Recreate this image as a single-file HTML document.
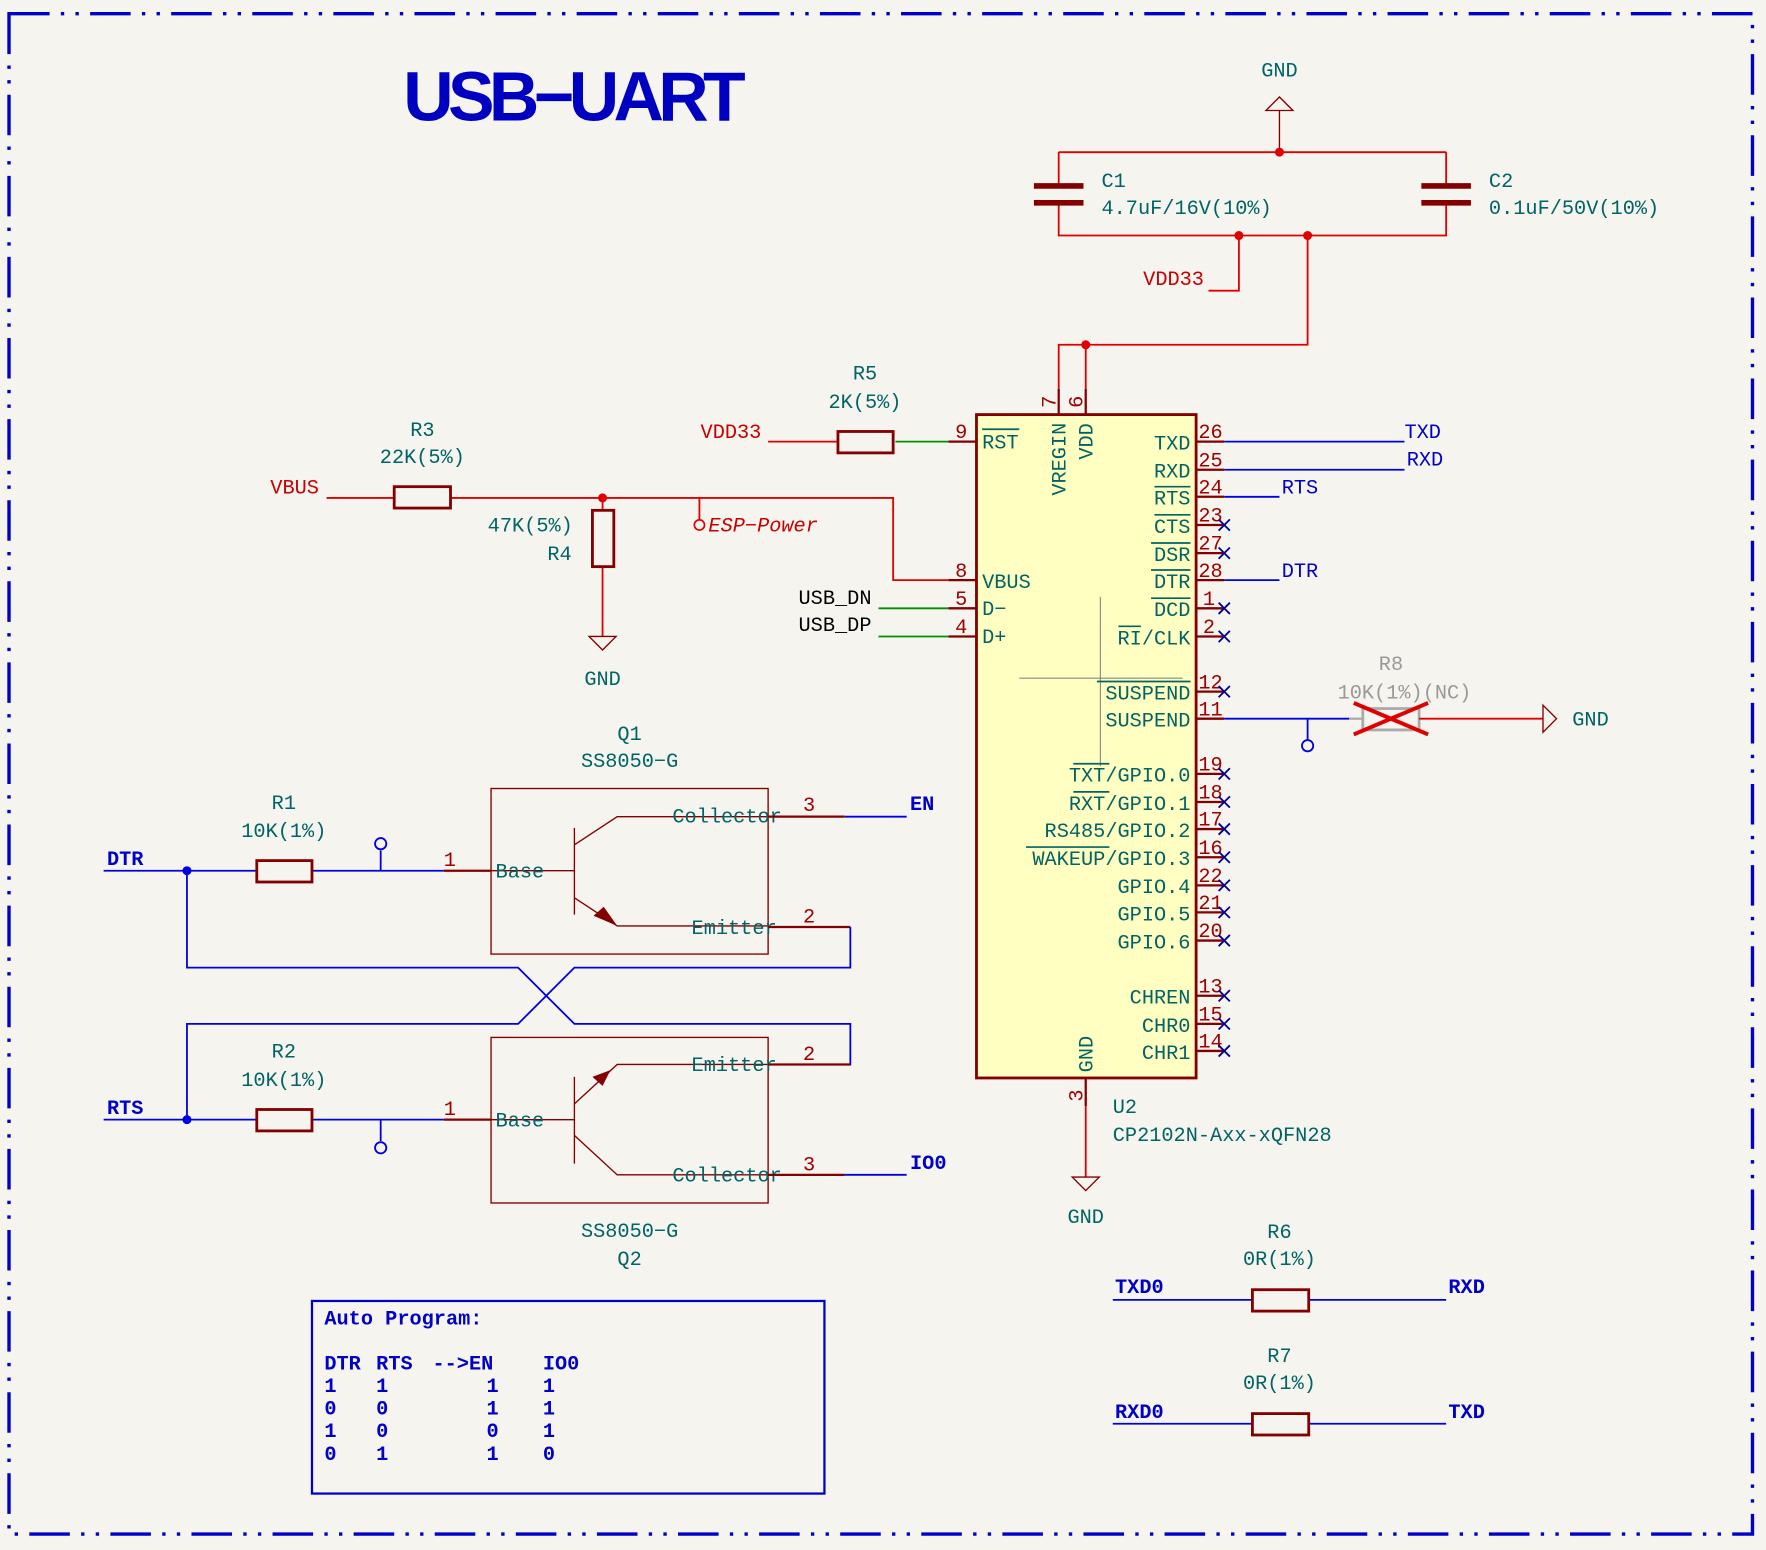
<!DOCTYPE html>
<html><head><meta charset="utf-8"><style>
html,body{margin:0;padding:0;background:#f5f4ef}
svg{display:block}
text{font-family:"Liberation Mono","DejaVu Sans Mono",monospace;font-size:18px}
.t{fill:#006464}.r{fill:#c80000}.pr{fill:#a00000}.b{fill:#0000c8;font-weight:bold}.bl{fill:#0000c8}.k{fill:#000}.g{fill:#999}
.wr{stroke:#e00000;stroke-width:1.6;fill:none}
.wb{stroke:#0000e0;stroke-width:1.6;fill:none}
.wg{stroke:#009000;stroke-width:1.6;fill:none}
.dr{stroke:#840000;stroke-width:2;fill:none}
.dt{stroke:#840000;stroke-width:1.2;fill:none}
.nc{stroke:#000090;stroke-width:1.6}
</style></head><body>
<svg width="1766" height="1550" viewBox="0 0 1568 1376" xmlns="http://www.w3.org/2000/svg">
<rect width="1568" height="1376" fill="#f5f4ef"/>
<rect x="8" y="12" width="1548" height="1350" fill="none" stroke="#0000c8" stroke-width="3" stroke-dasharray="36,10,3,10,3,10"/>
<text x="358" y="107" style="font-family:'Liberation Sans',sans-serif;font-size:62px;font-weight:bold;fill:#0000c0" textLength="304">USB−UART</text>

<!-- top GND & caps -->
<text x="1136" y="68" class="t" text-anchor="middle">GND</text>
<path class="dt" d="M1124 98 L1136 86 L1148 98 Z M1136 98 V135"/>
<path class="wr" d="M940 135 H1284 M940 135 V163 M1284 135 V163 M940 182 V209 H1284 V182 M1100 209 V258 H1073 M1161 209 V306 H940 V345 M964 306 V345"/>
<path stroke="#840000" stroke-width="5" d="M918 165 H962 M918 180 H962 M1262 165 H1306 M1262 180 H1306"/>
<circle cx="1136" cy="135" r="4" fill="#e00000"/><circle cx="1100" cy="209" r="4" fill="#e00000"/><circle cx="1161" cy="209" r="4" fill="#e00000"/><circle cx="964" cy="306" r="4" fill="#e00000"/>
<text x="978" y="166" class="t">C1</text><text x="978" y="190" class="t">4.7uF/16V(10%)</text>
<text x="1322" y="166" class="t">C2</text><text x="1322" y="190" class="t">0.1uF/50V(10%)</text>
<text x="1015" y="253" class="r">VDD33</text>

<!-- chip -->
<rect x="867" y="368" width="195" height="589" fill="#ffffc2" stroke="#840000" stroke-width="2.5"/>
<path stroke="#888" stroke-width="1" d="M977 530 V680 M905 602 H1050"/>
<path class="dr" d="M940 345 V368 M964 345 V368 M964 957 V982"/>
<text transform="translate(937,362) rotate(-90)" class="pr">7</text>
<text transform="translate(961,362) rotate(-90)" class="pr">6</text>
<text transform="translate(946,440) rotate(-90)" class="t">VREGIN</text>
<text transform="translate(970,408) rotate(-90)" class="t">VDD</text>
<text transform="translate(970,952) rotate(-90)" class="t">GND</text>
<text transform="translate(961,978) rotate(-90)" class="pr">3</text>
<path class="wr" d="M964 982 V1045"/>
<path class="dt" d="M952 1045 L976 1045 L964 1057 Z"/>
<text x="964" y="1086" class="t" text-anchor="middle">GND</text>
<text x="988" y="988" class="t">U2</text><text x="988" y="1013" class="t">CP2102N-Axx-xQFN28</text>

<!-- left pins -->
<path class="dr" d="M842 392 H867 M842 515 H867 M842 540 H867 M842 565 H867"/>
<text x="848" y="389" class="pr">9</text><text x="848" y="512" class="pr">8</text><text x="848" y="537" class="pr">5</text><text x="848" y="562" class="pr">4</text>
<text x="872" y="398" class="t">RST</text><path stroke="#006464" stroke-width="1.5" d="M872 381 H905"/>
<text x="872" y="522" class="t">VBUS</text><text x="872" y="546" class="t">D−</text><text x="872" y="571" class="t">D+</text>
<path class="wg" d="M795 392 H842 M780 540 H842 M780 565 H842"/>
<path class="wr" d="M400 442 H793 V515 H842"/>
<text x="709" y="536" class="k">USB_DN</text><text x="709" y="560" class="k">USB_DP</text>

<!-- right pins -->
<g class="dr"><path d="M1062 392 H1087 M1062 417 H1087 M1062 441 H1087 M1062 466 H1087 M1062 491 H1087 M1062 515 H1087 M1062 540 H1087 M1062 565 H1087 M1062 614 H1087 M1062 638 H1087 M1062 687 H1087 M1062 712 H1087 M1062 736 H1087 M1062 761 H1087 M1062 786 H1087 M1062 810 H1087 M1062 835 H1087 M1062 884 H1087 M1062 909 H1087 M1062 933 H1087"/></g>
<g class="pr" font-size="17">
<text x="1064" y="389">26</text><text x="1064" y="414">25</text><text x="1064" y="438">24</text><text x="1064" y="463">23</text><text x="1064" y="488">27</text><text x="1064" y="512">28</text><text x="1068" y="537">1</text><text x="1068" y="562">2</text><text x="1064" y="611">12</text><text x="1064" y="635">11</text><text x="1064" y="684">19</text><text x="1064" y="709">18</text><text x="1064" y="733">17</text><text x="1064" y="758">16</text><text x="1064" y="783">22</text><text x="1064" y="807">21</text><text x="1064" y="832">20</text><text x="1064" y="881">13</text><text x="1064" y="906">15</text><text x="1064" y="930">14</text>
</g>
<g class="t" text-anchor="end">
<text x="1057" y="399">TXD</text><text x="1057" y="424">RXD</text><text x="1057" y="448">RTS</text><text x="1057" y="473">CTS</text><text x="1057" y="498">DSR</text><text x="1057" y="522">DTR</text><text x="1057" y="547">DCD</text><text x="1057" y="572">RI/CLK</text><text x="1057" y="621">SUSPEND</text><text x="1057" y="645">SUSPEND</text><text x="1057" y="694">TXT/GPIO.0</text><text x="1057" y="719">RXT/GPIO.1</text><text x="1057" y="743">RS485/GPIO.2</text><text x="1057" y="768">WAKEUP/GPIO.3</text><text x="1057" y="793">GPIO.4</text><text x="1057" y="817">GPIO.5</text><text x="1057" y="842">GPIO.6</text><text x="1057" y="891">CHREN</text><text x="1057" y="916">CHR0</text><text x="1057" y="940">CHR1</text>
</g>
<path stroke="#006464" stroke-width="1.5" d="M1025 432 H1057 M1025 457 H1057 M1022 482 H1057 M1022 506 H1057 M1022 531 H1057 M993 556 H1013 M974 605 H1057 M953 678 H985 M953 703 H985 M911 752 H985"/>
<g class="nc"><path d="M1082 461 l10 10 M1092 461 l-10 10 M1082 486 l10 10 M1092 486 l-10 10 M1082 535 l10 10 M1092 535 l-10 10 M1082 560 l10 10 M1092 560 l-10 10 M1082 609 l10 10 M1092 609 l-10 10 M1082 682 l10 10 M1092 682 l-10 10 M1082 707 l10 10 M1092 707 l-10 10 M1082 731 l10 10 M1092 731 l-10 10 M1082 756 l10 10 M1092 756 l-10 10 M1082 781 l10 10 M1092 781 l-10 10 M1082 805 l10 10 M1092 805 l-10 10 M1082 830 l10 10 M1092 830 l-10 10 M1082 879 l10 10 M1092 879 l-10 10 M1082 904 l10 10 M1092 904 l-10 10 M1082 928 l10 10 M1092 928 l-10 10"/></g>
<path class="wb" d="M1087 392 H1247 M1087 417 H1247 M1087 441 H1136 M1087 515 H1136 M1087 638 H1198 M1161 638 V657"/>
<circle cx="1161" cy="662" r="5" fill="none" stroke="#0000e0" stroke-width="1.6"/>
<text x="1247" y="389" class="bl">TXD</text><text x="1249" y="413" class="bl">RXD</text><text x="1138" y="438" class="bl">RTS</text><text x="1138" y="512" class="bl">DTR</text>
<!-- R8 -->
<rect x="1210" y="629" width="50" height="19" fill="none" stroke="#aaa" stroke-width="2.5"/>
<path stroke="#aaa" stroke-width="2" d="M1198 638 H1210"/>
<path stroke="#e00000" stroke-width="3.5" d="M1202 624 L1268 652 M1202 652 L1268 624"/>
<path class="wr" d="M1260 638 H1370"/>
<path class="dt" d="M1370 626 L1382 638 L1370 650 Z"/>
<text x="1396" y="644" class="t">GND</text>
<text x="1235" y="595" class="g" text-anchor="middle">R8</text><text x="1247" y="620" class="g" text-anchor="middle">10K(1%)(NC)</text>

<!-- R5 R3 R4 -->
<text x="768" y="337" class="t" text-anchor="middle">R5</text><text x="768" y="362" class="t" text-anchor="middle">2K(5%)</text>
<text x="622" y="389" class="r">VDD33</text>
<path class="wr" d="M682 392 H744"/>
<rect x="744" y="383" width="49" height="19" fill="none" stroke="#840000" stroke-width="2.5"/>
<text x="375" y="387" class="t" text-anchor="middle">R3</text><text x="375" y="411" class="t" text-anchor="middle">22K(5%)</text>
<text x="240" y="438" class="r">VBUS</text>
<path class="wr" d="M290 442 H350 M535 442 V453 M535 503 V565 M621 442 V461"/>
<rect x="350" y="432" width="50" height="19" fill="none" stroke="#840000" stroke-width="2.5"/>
<rect x="526" y="453" width="19" height="50" fill="none" stroke="#840000" stroke-width="2.5"/>
<circle cx="535" cy="442" r="4" fill="#e00000"/>
<circle cx="621" cy="466" r="4.5" fill="none" stroke="#e00000" stroke-width="1.5"/>
<text x="629" y="472" class="r" font-style="italic">ESP−Power</text>
<path class="dt" d="M523 565 L547 565 L535 577 Z"/>
<text x="535" y="608" class="t" text-anchor="middle">GND</text>
<text x="433" y="472" class="t">47K(5%)</text><text x="486" y="497" class="t">R4</text>

<!-- Q1 -->
<text x="559" y="657" class="t" text-anchor="middle">Q1</text><text x="559" y="681" class="t" text-anchor="middle">SS8050−G</text>
<rect x="436" y="700" width="246" height="147" fill="none" stroke="#840000" stroke-width="1.2"/>
<path class="dt" d="M436 773 H510 M510 735 V812 M510 750 L548 725 H682 M510 797 L548 822 H682"/>
<path d="M548 822 L527 813 L536 805 Z" fill="#840000"/>
<text x="440" y="779" class="t">Base</text><text x="597" y="730" class="t">Collector</text><text x="614" y="829" class="t">Emitter</text>
<path class="dr" d="M394 773 H436 M682 725 H750 M682 823 H755"/>
<text x="394" y="769" class="pr" font-size="17">1</text><text x="713" y="720" class="pr" font-size="17">3</text><text x="713" y="819" class="pr" font-size="17">2</text>
<path class="wb" d="M750 725 H805 M92 773 H228 M277 773 H394 M338 773 V755 M166 773 V859 H460 L510 909 H755 V945 H682 M755 823 V859 H510 L460 909 H166 V994"/>
<circle cx="338" cy="749" r="5" fill="none" stroke="#0000e0" stroke-width="1.6"/>
<circle cx="166" cy="773" r="4" fill="#0000e0"/>
<rect x="228" y="764" width="49" height="19" fill="none" stroke="#840000" stroke-width="2.5"/>
<text x="808" y="719" class="b">EN</text><text x="95" y="768" class="b">DTR</text>
<text x="252" y="718" class="t" text-anchor="middle">R1</text><text x="252" y="743" class="t" text-anchor="middle">10K(1%)</text>

<!-- Q2 -->
<rect x="436" y="921" width="246" height="147" fill="none" stroke="#840000" stroke-width="1.2"/>
<path class="dt" d="M436 994 H510 M510 956 V1033 M510 980 L548 945 H682 M510 1008 L548 1043 H682"/>
<path d="M542 950 L535 964 L526 956 Z" fill="#840000"/>
<text x="440" y="1000" class="t">Base</text><text x="614" y="951" class="t">Emitter</text><text x="597" y="1049" class="t">Collector</text>
<path class="dr" d="M394 994 H436 M682 945 H755 M682 1043 H750"/>
<text x="394" y="990" class="pr" font-size="17">1</text><text x="713" y="941" class="pr" font-size="17">2</text><text x="713" y="1039" class="pr" font-size="17">3</text>
<path class="wb" d="M750 1043 H805 M92 994 H228 M277 994 H394 M338 994 V1013"/>
<circle cx="338" cy="1019" r="5" fill="none" stroke="#0000e0" stroke-width="1.6"/>
<circle cx="166" cy="994" r="4" fill="#0000e0"/>
<rect x="228" y="985" width="49" height="19" fill="none" stroke="#840000" stroke-width="2.5"/>
<text x="808" y="1038" class="b">IO0</text><text x="95" y="989" class="b">RTS</text>
<text x="252" y="939" class="t" text-anchor="middle">R2</text><text x="252" y="964" class="t" text-anchor="middle">10K(1%)</text>
<text x="559" y="1098" class="t" text-anchor="middle">SS8050−G</text><text x="559" y="1123" class="t" text-anchor="middle">Q2</text>

<!-- Auto program -->
<rect x="277" y="1155" width="455" height="171" fill="none" stroke="#0000c8" stroke-width="2"/>
<g class="b">
<text x="288" y="1176">Auto Program:</text>
<text x="288" y="1216">DTR</text><text x="334" y="1216">RTS</text><text x="384" y="1216">--&gt;EN</text><text x="482" y="1216">IO0</text>
<text x="288" y="1236">1</text><text x="334" y="1236">1</text><text x="432" y="1236">1</text><text x="482" y="1236">1</text>
<text x="288" y="1256">0</text><text x="334" y="1256">0</text><text x="432" y="1256">1</text><text x="482" y="1256">1</text>
<text x="288" y="1276">1</text><text x="334" y="1276">0</text><text x="432" y="1276">0</text><text x="482" y="1276">1</text>
<text x="288" y="1296">0</text><text x="334" y="1296">1</text><text x="432" y="1296">1</text><text x="482" y="1296">0</text>
</g>

<!-- R6 R7 -->
<text x="1136" y="1099" class="t" text-anchor="middle">R6</text><text x="1136" y="1123" class="t" text-anchor="middle">0R(1%)</text>
<path class="wb" d="M988 1154 H1112 M1162 1154 H1284 M988 1264 H1112 M1162 1264 H1284"/>
<rect x="1112" y="1145" width="50" height="19" fill="none" stroke="#840000" stroke-width="2.5"/>
<text x="990" y="1148" class="b">TXD0</text><text x="1286" y="1148" class="b">RXD</text>
<text x="1136" y="1209" class="t" text-anchor="middle">R7</text><text x="1136" y="1233" class="t" text-anchor="middle">0R(1%)</text>
<rect x="1112" y="1255" width="50" height="19" fill="none" stroke="#840000" stroke-width="2.5"/>
<text x="990" y="1259" class="b">RXD0</text><text x="1286" y="1259" class="b">TXD</text>
</svg>
</body></html>
